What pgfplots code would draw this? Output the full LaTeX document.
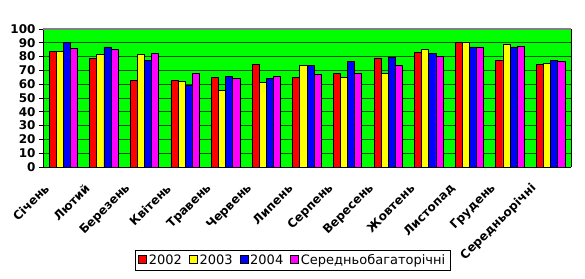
\documentclass[border=0pt]{standalone}
\usepackage{fontspec}
\setmainfont{DejaVu Sans}
\usepackage{pgfplots}
\pgfplotsset{compat=1.18}
\definecolor{pgreen}{RGB}{0,255,0}
\definecolor{cred}{RGB}{255,0,0}
\definecolor{cyel}{RGB}{255,255,0}
\definecolor{cblue}{RGB}{0,0,255}
\definecolor{cmag}{RGB}{255,0,255}
\definecolor{gridc}{RGB}{0,80,0}
\begin{document}
\begin{tikzpicture}
\begin{axis}[
  at={(0,0)}, anchor=south west,
  scale only axis, width=528pt, height=138pt,
  xmin=-0.5, xmax=12.5, ymin=0, ymax=100,
  ybar=0pt, bar width=0.175,
  axis background/.style={fill=pgreen},
  axis x line*=bottom, axis y line*=left,
  x axis line style={-, black, line width=0.9pt},
  y axis line style={-, black, line width=0.9pt},
  tick align=outside,
  ytick={0,10,...,100},
  ymajorgrids, grid style={gridc, line width=0.7pt},
  major tick length=4pt,
  tick style={black, line width=0.8pt},
  /pgf/number format/assume math mode=true,
  yticklabel style={font=\bfseries\fontsize{12}{12}\selectfont},
  xtick={0,...,12},
  xticklabels={Січень,Лютий,Березень,Квітень,Травень,Червень,Липень,Серпень,Вересень,Жовтень,Листопад,Грудень,Середньорічні},
  xtick style={draw=none},
  xticklabel style={xshift=-14pt, yshift=-13pt, rotate=45, anchor=east, font=\bfseries\fontsize{12}{12}\selectfont},
  extra x ticks={-0.5,0.5,...,12.5},
  extra x tick labels={},
  extra x tick style={tick style={draw=black, line width=0.8pt}, grid=none},
  legend style={at={(0.473,-0.674)}, anchor=center, legend columns=-1, draw=black, line width=0.6pt,
    font=\fontsize{13}{15}\selectfont, inner xsep=3pt, inner ysep=2pt,
    /tikz/every even column/.append style={column sep=5pt}},
  legend image code/.code={\draw[#1, draw=black, line width=0.6pt] (0pt,-3pt) rectangle (8pt,5pt);},
  clip=false,
]
\addplot[fill=cred, draw=black, line width=0.8pt] coordinates {(0,84) (1,78.5) (2,62.5) (3,62.5) (4,64.7) (5,74) (6,64.7) (7,67.5) (8,79) (9,82.7) (10,90) (11,77) (12,74)};
\addplot[fill=cyel, draw=black, line width=0.8pt] coordinates {(0,84) (1,81.3) (2,81.3) (3,61.8) (4,55.3) (5,61) (6,73.3) (7,64.7) (8,67.5) (9,84.9) (10,90.6) (11,88.5) (12,74.8)};
\addplot[fill=cblue, draw=black, line width=0.8pt] coordinates {(0,90) (1,87) (2,77) (3,59.1) (4,65.4) (5,64) (6,73.3) (7,76.2) (8,79.3) (9,82) (10,87) (11,87) (12,77)};
\addplot[fill=cmag, draw=black, line width=0.8pt] coordinates {(0,85.6) (1,84.9) (2,82) (3,67.5) (4,64) (5,65.4) (6,66.8) (7,67.5) (8,73.3) (9,79.8) (10,87) (11,87.7) (12,76.2)};
\legend{2002,2003,2004,Середньобагаторічні}
\draw[gray, line width=1.2pt] (rel axis cs:0,1) -- (rel axis cs:1,1);
\draw[black, line width=1pt] (rel axis cs:1,0) -- (rel axis cs:1,1);
\end{axis}
\pgfresetboundingbox
\path (-43pt,-111pt) rectangle (542pt,167pt);
\end{tikzpicture}
\end{document}
